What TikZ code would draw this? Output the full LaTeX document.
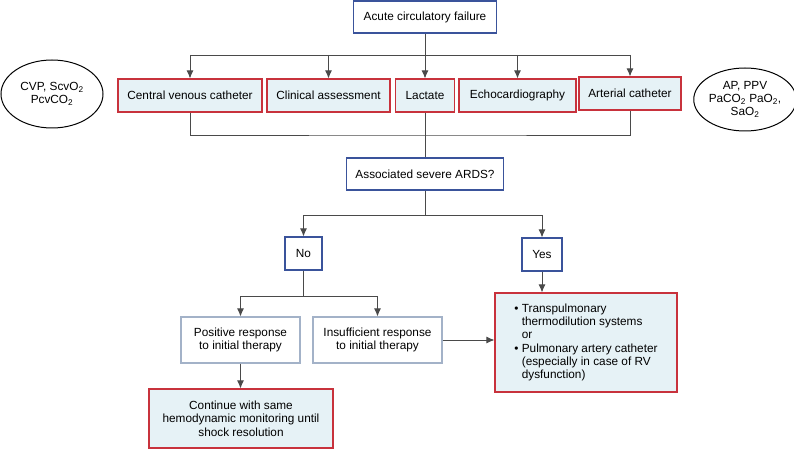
\documentclass[tikz,border=0pt]{standalone}
\usepackage{fontspec}
\setmainfont{Liberation Sans}
\usepackage{xcolor}
\usepackage{tikz}
\definecolor{box-red}{HTML}{C8323C}
\definecolor{box-blue}{HTML}{3A539B}
\definecolor{box-grey}{HTML}{A3B2C8}
\definecolor{fill-pale}{HTML}{E6F2F6}
\definecolor{line-g}{HTML}{4A4A4A}
\usetikzlibrary{positioning,shapes.geometric,arrows.meta}
\tikzset{
  redbox/.style={draw=box-red,fill=fill-pale,line width=1.2pt,inner sep=2pt,align=center},
  bluebox/.style={draw=box-blue,fill=white,line width=1.2pt,inner sep=2pt,align=center},
  greybox/.style={draw=box-grey,fill=white,line width=1.2pt,inner sep=2pt,align=center},
  oval/.style={draw,ellipse,line width=1pt,inner sep=0pt,align=center},
  link/.style={draw=line-g,line width=0.8pt},
}

\begin{document}
\begin{tikzpicture}[>={Latex[length=8pt,width=7pt]},x=1pt,y=-1pt,font=\fontsize{11.8}{13.3}\selectfont]
\useasboundingbox (0,0) rectangle (794,449);
\path
(425,17)     node[bluebox,minimum width=143pt,minimum height=32pt] (acute) {Acute circulatory failure}
(190,95.5)   node[redbox,minimum width=144pt,minimum height=33pt] (cvc) {Central venous catheter}
(328.5,95.5) node[redbox,minimum width=123pt,minimum height=33pt] (clin) {Clinical assessment}
(425,95.5)   node[redbox,minimum width=59pt,minimum height=33pt] (lact) {Lactate}
(517.5,95.5) node[redbox,minimum width=117pt,minimum height=33pt] (echo) {Echocardiography}
(630,93.5)   node[redbox,minimum width=102pt,minimum height=33pt] (art) {Arterial catheter}
(52,94)      node[oval,minimum width=102pt,minimum height=68pt] (lv) {CVP, ScvO\textsubscript{2}\\PcvCO\textsubscript{2}}
(745,99.5)   node[oval,minimum width=95pt,minimum height=63pt] (rv) {AP, PPV\\PaCO\textsubscript{2} PaO\textsubscript{2},\\SaO\textsubscript{2}}
(425,174)    node[bluebox,minimum width=157pt,minimum height=32pt] (ards) {Associated severe ARDS?}
(303.5,253.5) node[bluebox,minimum width=37pt,minimum height=33pt] (no) {No}
(542,254.5)  node[bluebox,minimum width=40pt,minimum height=33pt] (yes) {Yes}
(240.5,340)  node[greybox,minimum width=119pt,minimum height=46pt] (pos) {Positive response\\to initial therapy}
(377.5,340)  node[greybox,minimum width=129pt,minimum height=46pt] (insuf) {Insufficient response\\to initial therapy}
(586,342.5)  node[redbox,minimum width=182pt,minimum height=99pt,align=left] (cath)
  {\textbullet\ Transpulmonary\\
   \hphantom{\textbullet\ }thermodilution systems\\
   \hphantom{\textbullet\ }or\\
   \textbullet\ Pulmonary artery catheter\\
   \hphantom{\textbullet\ }(especially in case of RV\\
   \hphantom{\textbullet\ }dysfunction)}
(241,418.5)  node[redbox,minimum width=184pt,minimum height=59pt] (cont) {Continue with same\\hemodynamic monitoring until\\shock resolution};
% branch points
\coordinate (top) at (acute.south |- 0,55);
\coordinate (mid) at (lact.south |- 0,135);
\coordinate (split) at (ards.south |- 0,215);
\coordinate (nosplit) at (no.south |- 0,296);
\draw[link] (acute)--(top);
\draw[link] (cvc.north |- top)--(art.north |- top);
\foreach \n in {cvc,clin,lact,echo,art}
  \draw[link,->] (\n.north |- top)--(\n.north);
\draw[link] (cvc.south)|-(mid)-|(art.south);
\draw[link] (lact.south)--(ards.north);
\draw[link] (ards.south)--(split);
\draw[link,->] (split)-|(no.north);
\draw[link,->] (split)-|(yes.north);
\draw[link] (no.south)--(nosplit);
\draw[link,->] (nosplit)-|(pos.north);
\draw[link,->] (nosplit)-|(insuf.north);
\draw[link,->] (yes.south)--(cath.north -| yes.south);
\draw[link,->] (insuf.east)--(cath.west |- insuf.east);
\draw[link,->] (pos.south)--(cont.north -| pos.south);
\end{tikzpicture}
\end{document}
